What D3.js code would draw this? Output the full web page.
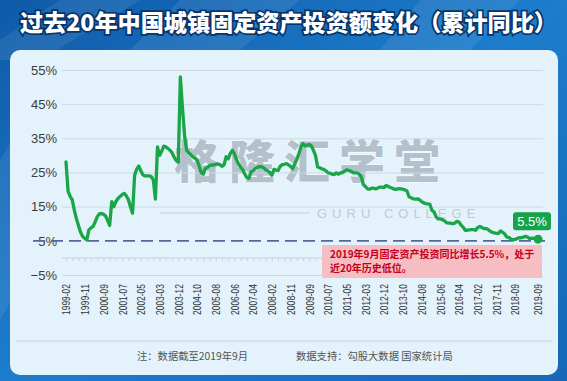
<!DOCTYPE html>
<html>
<head>
<meta charset="utf-8">
<script src="https://cdn.jsdelivr.net/npm/d3@7"></script>
<style>
  body { margin: 0; background: #1b75c6; }
  svg { display: block; }
</style>
</head>
<body>
<div class="canvas"></div>
<script>
  // data: urban fixed-asset investment, cumulative YoY %, Feb..Dec each year
  const years = d3.range(1999, 2020);
  const months = ['02', '03', '04', '05', '06', '07', '08', '09', '10', '11', '12'];
  const fai = [
    [28.1, 19.5, 18.0, 17.0, 14.0, 11.5, 9.5, 7.5, 6.3, 5.7, 5.3],      // 1999
    [8.2, 8.8, 9.2, 10.5, 12.0, 12.9, 13.0, 12.8, 12.3, 11.0, 9.5],      // 2000
    [16.5, 15.0, 16.5, 17.4, 18.0, 18.5, 18.9, 18.2, 17.0, 15.0, 13.1],  // 2001
    [24.2, 26.0, 26.9, 25.5, 24.3, 24.0, 24.0, 24.0, 23.8, 22.8, 17.2],  // 2002
    [32.5, 30.0, 31.2, 32.7, 32.5, 32.0, 31.5, 30.8, 29.5, 28.5, 28.0],  // 2003
    [53.0, 44.0, 36.0, 31.5, 30.8, 30.2, 29.6, 29.2, 28.7, 27.0, 25.0],  // 2004
    [24.5, 26.2, 26.5, 27.0, 27.2, 27.2, 27.4, 27.5, 27.3, 26.8, 27.2],  // 2005
    [29.6, 29.0, 30.5, 31.5, 30.5, 28.7, 27.5, 26.5, 25.8, 24.5, 23.5],  // 2006
    [23.3, 25.2, 25.5, 26.2, 26.5, 26.7, 26.7, 26.4, 25.8, 25.5, 25.0],  // 2007
    [24.2, 25.9, 25.7, 25.6, 26.8, 27.3, 27.4, 27.6, 27.2, 26.8, 26.1],  // 2008
    [27.5, 28.8, 30.5, 32.5, 33.5, 32.8, 33.0, 33.2, 32.8, 31.5, 30.0],  // 2009
    [26.6, 26.4, 26.1, 25.9, 25.5, 24.9, 24.8, 24.5, 24.4, 24.9, 24.5],  // 2010
    [24.9, 25.0, 25.4, 25.8, 25.6, 25.4, 25.0, 24.9, 24.9, 24.5, 23.8],  // 2011
    [21.5, 20.9, 20.2, 20.1, 20.4, 20.4, 20.2, 20.5, 20.7, 20.7, 20.6],  // 2012
    [21.2, 20.9, 20.6, 20.4, 20.1, 20.1, 20.3, 20.2, 20.1, 19.9, 19.6],  // 2013
    [17.9, 17.6, 17.3, 17.2, 17.3, 17.0, 16.5, 16.1, 15.9, 15.8, 15.7],  // 2014
    [13.9, 13.5, 12.0, 11.4, 11.4, 11.2, 10.9, 10.3, 10.2, 10.2, 10.0],  // 2015
    [10.2, 10.7, 10.5, 9.6, 9.0, 8.1, 8.1, 8.2, 8.3, 8.3, 8.1],          // 2016
    [8.9, 9.2, 8.9, 8.6, 8.6, 8.3, 7.8, 7.5, 7.3, 7.2, 7.2],             // 2017
    [7.9, 7.5, 7.0, 6.1, 6.0, 5.5, 5.3, 5.4, 5.7, 5.9, 5.9],             // 2018
    [6.1, 6.3, 6.1, 5.6, 5.8, 5.7, 5.5, 5.5]                             // 2019
  ];
  const yTicks = [-5, 5, 15, 25, 35, 45, 55];
  const xTicks = ['1999-02', '1999-11', '2000-09', '2001-07', '2002-05', '2003-03', '2003-12',
    '2004-10', '2005-08', '2006-06', '2007-04', '2008-02', '2008-11', '2009-09', '2010-07',
    '2011-05', '2012-03', '2012-12', '2013-10', '2014-08', '2015-06', '2016-04', '2017-02',
    '2017-11', '2018-09', '2019-09'];
  const baseline = 5;

  const title = '过去20年中国城镇固定资产投资额变化（累计同比）';
  const noteLines = ['2019年9月固定资产投资同比增长5.5%，处于', '近20年历史低位。'];
  const footLeft = '注：数据截至2019年9月';
  const footRight = '数据支持：勾股大数据 国家统计局';

  const data = years.flatMap((yr, i) => fai[i].map((v, j) => ({ cat: yr + '-' + months[j], v: v })));

  const width = 567, height = 381;
  const svg = d3.select('.canvas').append('svg')
    .attr('width', width).attr('height', height);

  const defs = svg.append('defs');
  const bg = defs.append('linearGradient').attr('id', 'bg')
    .attr('x1', 0).attr('y1', 0).attr('x2', 1).attr('y2', 1);
  bg.append('stop').attr('offset', '0%').attr('stop-color', '#0f5aa8');
  bg.append('stop').attr('offset', '50%').attr('stop-color', '#1c7dcc');
  bg.append('stop').attr('offset', '100%').attr('stop-color', '#1667b8');

  // background + streaks
  svg.append('rect').attr('width', width).attr('height', height).attr('fill', 'url(#bg)');
  const streaks = [
    [[60, 0], [140, 0], [40, 60], [0, 60], [0, 40]],
    [[180, 0], [300, 0], [240, 50], [130, 50]],
    [[420, 0], [520, 0], [470, 50], [380, 50]],
    [[0, 160], [12, 140], [12, 300], [0, 320]]
  ];
  svg.selectAll('.streak').data(streaks).enter().append('polygon')
    .attr('class', 'streak')
    .attr('points', d => d.map(p => p.join(',')).join(' '))
    .attr('fill', '#ffffff').attr('opacity', 0.08);

  // title
  svg.append('text')
    .attr('x', 20).attr('y', 31)
    .attr('font-family', '"Noto Sans CJK SC", sans-serif')
    .attr('font-weight', 900).attr('font-size', 23)
    .attr('fill', '#ffffff').attr('stroke', '#07356b').attr('stroke-width', 3.5)
    .attr('paint-order', 'stroke')
    .attr('textLength', 537).attr('lengthAdjust', 'spacingAndGlyphs')
    .text(title);

  // card
  svg.append('rect')
    .attr('x', 10).attr('y', 50).attr('width', 548).attr('height', 325).attr('rx', 10)
    .attr('fill', '#e3f2fb');

  // scales
  const x = d3.scalePoint().domain(data.map(d => d.cat)).range([66, 538]);
  const y = d3.scaleLinear().domain([-5, 55]).range([275, 70]);

  // watermark
  const wm = svg.append('g');
  wm.append('text')
    .attr('x', 174).attr('y', 178)
    .attr('font-family', '"Noto Sans CJK SC", sans-serif')
    .attr('font-weight', 900).attr('font-size', 46)
    .attr('letter-spacing', 9)
    .attr('fill', '#b3c1cb').attr('stroke', '#f4fbff').attr('stroke-width', 1.5)
    .attr('paint-order', 'stroke')
    .text('格隆汇学堂');
  wm.append('line')
    .attr('x1', 160).attr('x2', 310).attr('y1', 213).attr('y2', 213)
    .attr('stroke', '#c3d0d9').attr('stroke-width', 1);
  wm.append('text')
    .attr('x', 317).attr('y', 218)
    .attr('font-family', '"Liberation Sans", sans-serif')
    .attr('font-size', 13).attr('letter-spacing', 5)
    .attr('fill', '#bfccd5')
    .text('GURU COLLEGE');

  // y axis + grid
  const yAxis = d3.axisLeft(y)
    .tickValues(yTicks)
    .tickSize(-(543 - 62))
    .tickPadding(5)
    .tickFormat(d => (d < 0 ? '−' + Math.abs(d) : d) + '%');

  const yaxisGroup = svg.append('g')
    .attr('transform', 'translate(62,0)')
    .call(yAxis);
  yaxisGroup.select('.domain').remove();
  yaxisGroup.selectAll('line')
    .attr('stroke', d => d === baseline ? 'none' : '#cbd9e3');
  yaxisGroup.selectAll('text')
    .attr('fill', '#3c3c3c')
    .attr('font-size', 13)
    .attr('font-family', '"Liberation Sans", Arial, sans-serif');

  // zero axis with small ticks
  const zeroAxis = d3.axisBottom(x)
    .tickValues(x.domain().filter((d, i) => i % 3 === 0))
    .tickSize(3)
    .tickFormat('');
  const zg = svg.append('g')
    .attr('transform', `translate(0,${y(0)})`)
    .call(zeroAxis);
  zg.select('.domain').attr('stroke', '#c7d2da').attr('d', 'M62,0H543');
  zg.selectAll('line').attr('stroke', '#c7d2da');

  // x labels
  const xAxis = d3.axisBottom(x).tickValues(xTicks).tickSize(0);
  const xg = svg.append('g')
    .attr('transform', 'translate(0,283)')
    .call(xAxis);
  xg.select('.domain').remove();
  xg.selectAll('text')
    .attr('transform', 'rotate(-90)')
    .attr('x', -1).attr('y', 0).attr('dy', '0.35em')
    .attr('text-anchor', 'end')
    .attr('fill', '#333')
    .attr('font-size', 11)
    .attr('font-family', '"Liberation Sans", Arial, sans-serif')
    .attr('textLength', 31).attr('lengthAdjust', 'spacingAndGlyphs');

  // 5% dashed reference
  svg.append('line')
    .attr('x1', 33).attr('x2', 545)
    .attr('y1', y(baseline)).attr('y2', y(baseline))
    .attr('stroke', '#55689c').attr('stroke-width', 1.8)
    .attr('stroke-dasharray', '12,6');

  // annotation box
  svg.append('rect')
    .attr('x', 322).attr('y', 245).attr('width', 220).attr('height', 33)
    .attr('fill', '#f6bdc3');
  svg.selectAll('.note').data(noteLines).enter().append('text')
    .attr('class', 'note')
    .attr('x', 330)
    .attr('y', (d, i) => 257.5 + i * 14.5)
    .attr('font-family', '"Noto Sans CJK SC", sans-serif')
    .attr('font-weight', 'bold').attr('font-size', 10)
    .attr('fill', '#c4001d')
    .text(d => d);

  // line
  const line = d3.line()
    .x(d => x(d.cat))
    .y(d => y(d.v));

  svg.append('path')
    .datum(data)
    .attr('fill', 'none')
    .attr('stroke', '#19a548')
    .attr('stroke-width', 3.3)
    .attr('stroke-linejoin', 'round')
    .attr('stroke-linecap', 'round')
    .attr('d', line);

  // end point + label
  const last = data[data.length - 1];
  svg.append('circle')
    .attr('cx', x(last.cat)).attr('cy', y(last.v))
    .attr('r', 4.5).attr('fill', '#19a548');

  svg.append('rect')
    .attr('x', x(last.cat) - 25).attr('y', y(last.v) - 27)
    .attr('width', 38).attr('height', 18).attr('rx', 3)
    .attr('fill', '#16a34a');
  svg.append('text')
    .attr('x', x(last.cat) - 6).attr('y', y(last.v) - 13.5)
    .attr('text-anchor', 'middle')
    .attr('font-family', '"Liberation Sans", Arial, sans-serif')
    .attr('font-size', 13)
    .attr('fill', '#ffffff')
    .text(last.v + '%');

  // footer
  svg.append('line')
    .attr('x1', 16).attr('x2', 552).attr('y1', 341).attr('y2', 341)
    .attr('stroke', '#c6d4de');
  svg.append('text')
    .attr('x', 137).attr('y', 360)
    .attr('font-family', '"Noto Sans CJK SC", sans-serif')
    .attr('font-size', 10.3).attr('fill', '#555')
    .text(footLeft);
  svg.append('text')
    .attr('x', 296).attr('y', 360)
    .attr('font-family', '"Noto Sans CJK SC", sans-serif')
    .attr('font-size', 10.3).attr('fill', '#555')
    .text(footRight);
</script>
</body>
</html>
